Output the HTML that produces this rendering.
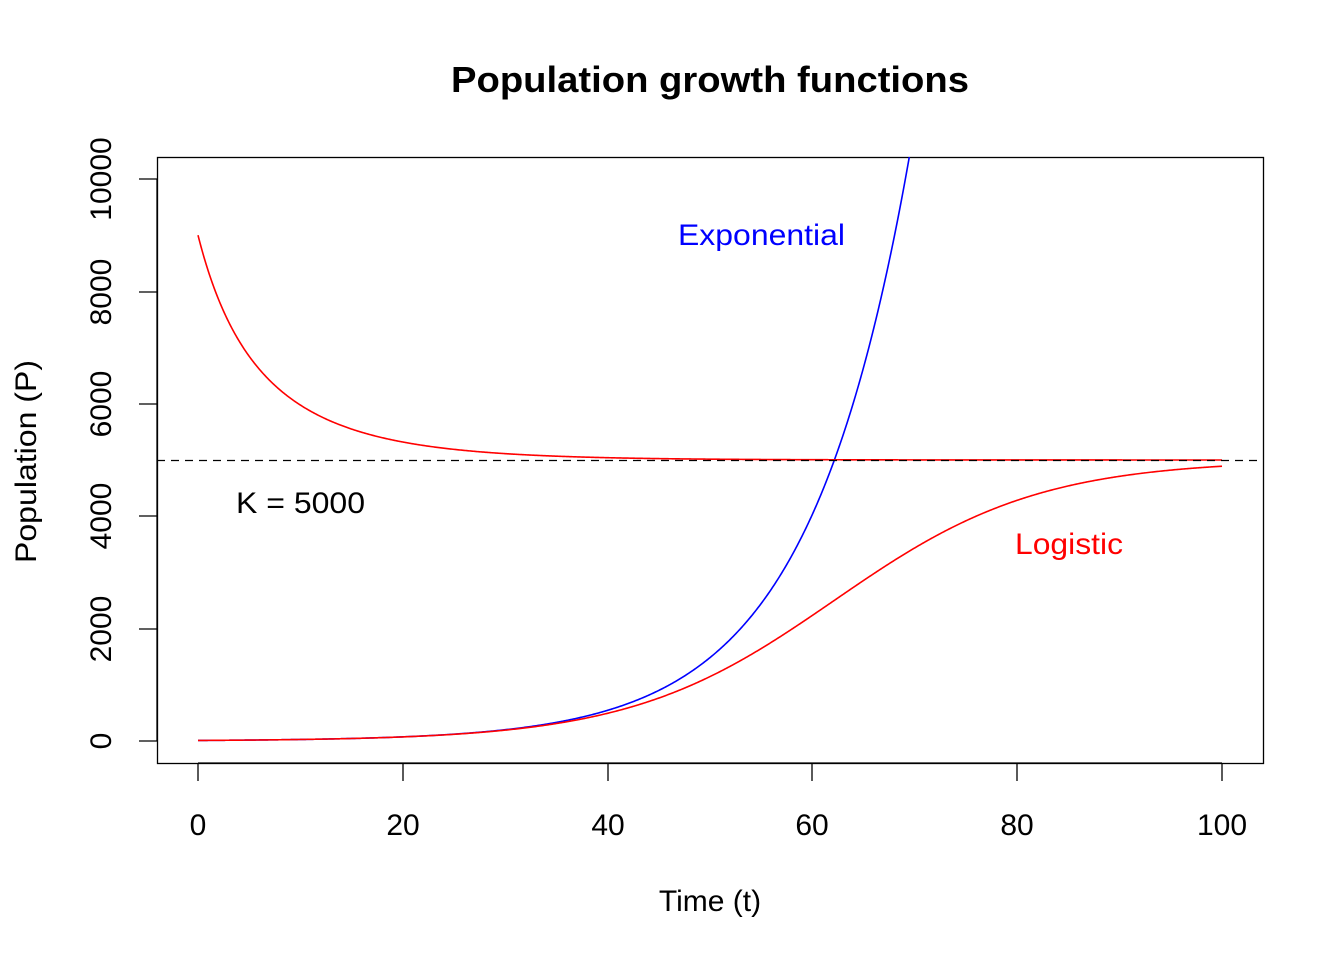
<!DOCTYPE html>
<html><head><meta charset="utf-8"><style>
html,body{margin:0;padding:0;background:#fff;}
svg{display:block;font-family:"Liberation Sans",Arial,sans-serif;}
</style></head><body>
<svg id="s" width="1344" height="960" viewBox="0 0 1344 960" xmlns="http://www.w3.org/2000/svg">
<text x="451" y="92" font-size="36" font-weight="bold" textLength="518" lengthAdjust="spacingAndGlyphs">Population growth functions</text>
<rect x="157.5" y="157.5" width="1106" height="606" fill="none" stroke="#000" stroke-width="1.3"/>
<g stroke="#000" stroke-width="1.3">
<line x1="198" y1="763" x2="1222" y2="763"/>
<line x1="198" y1="763" x2="198" y2="781"/>
<line x1="403" y1="763" x2="403" y2="781"/>
<line x1="608" y1="763" x2="608" y2="781"/>
<line x1="812" y1="763" x2="812" y2="781"/>
<line x1="1017" y1="763" x2="1017" y2="781"/>
<line x1="1222" y1="763" x2="1222" y2="781"/>
<line x1="157" y1="741" x2="157" y2="179"/>
<line x1="157" y1="741" x2="139" y2="741"/>
<line x1="157" y1="629" x2="139" y2="629"/>
<line x1="157" y1="516" x2="139" y2="516"/>
<line x1="157" y1="404" x2="139" y2="404"/>
<line x1="157" y1="292" x2="139" y2="292"/>
<line x1="157" y1="179" x2="139" y2="179"/>
</g>
<g font-size="30" text-anchor="middle">
<text x="198" y="835">0</text><text x="403" y="835">20</text><text x="608" y="835">40</text>
<text x="812" y="835">60</text><text x="1017" y="835">80</text><text x="1222" y="835">100</text>
<text transform="translate(111,741) rotate(-90)">0</text>
<text transform="translate(111,629) rotate(-90)">2000</text>
<text transform="translate(111,516) rotate(-90)">4000</text>
<text transform="translate(111,404) rotate(-90)">6000</text>
<text transform="translate(111,292) rotate(-90)">8000</text>
<text transform="translate(111,179) rotate(-90)">10000</text>
<text x="710" y="911">Time (t)</text>
</g>
<text transform="translate(36,563) rotate(-90)" font-size="30" textLength="203" lengthAdjust="spacingAndGlyphs">Population (P)</text>
<defs><clipPath id="c"><rect x="157" y="157" width="1107" height="607"/></clipPath></defs>
<g clip-path="url(#c)" fill="none" stroke-width="1.6">
<path id="pe" stroke="#0000ff"/>
<path id="pl" stroke="#ff0000"/>
<path id="pu" stroke="#ff0000"/>
</g>
<line x1="157" y1="460.5" x2="1263" y2="460.5" stroke="#000" stroke-width="1.3" stroke-dasharray="8,6"/>
<text x="678" y="245" font-size="30" fill="#0000ff" textLength="167" lengthAdjust="spacingAndGlyphs">Exponential</text>
<text x="1015" y="554" font-size="30" fill="#ff0000" textLength="108" lengthAdjust="spacingAndGlyphs">Logistic</text>
<text x="236" y="513" font-size="30" textLength="129" lengthAdjust="spacingAndGlyphs">K = 5000</text>
</svg>
<script>
function X(t){return 198+t*10.24;}
function Y(p){return 741-p*0.0562;}
function path(f){var d="";for(var i=0;i<=1000;i++){var t=i/10;var p=f(t);d+=(i?"L":"M")+X(t).toFixed(2)+","+Math.max(-1000,Y(p)).toFixed(2);}return d;}
var K=5000,r=0.1;
document.getElementById("pe").setAttribute("d",path(function(t){return 10*Math.exp(r*t);}));
document.getElementById("pl").setAttribute("d",path(function(t){return K/(1+(K/10-1)*Math.exp(-r*t));}));
document.getElementById("pu").setAttribute("d",path(function(t){return K/(1+(K/9000-1)*Math.exp(-r*t));}));
</script>
</body></html>
